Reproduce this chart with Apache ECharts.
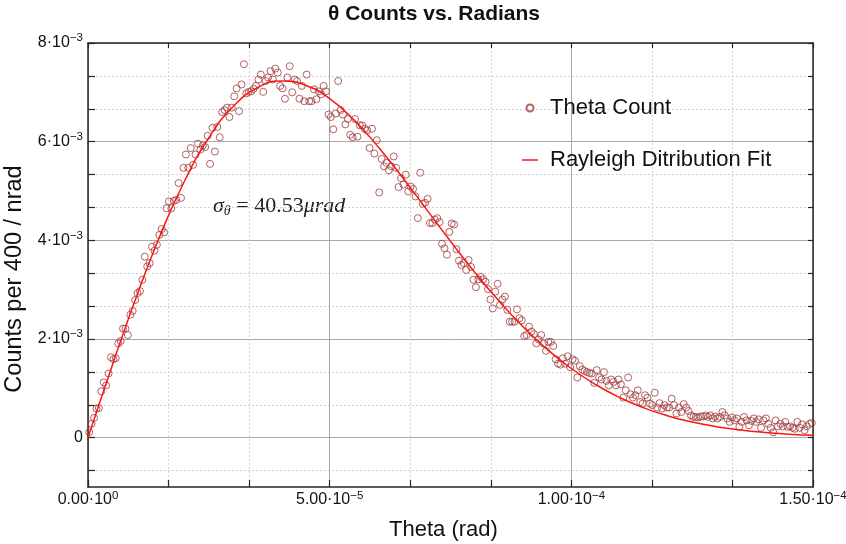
<!DOCTYPE html>
<html><head><meta charset="utf-8">
<script src="https://cdn.jsdelivr.net/npm/echarts@6/dist/echarts.min.js"></script>
<style>html,body{margin:0;padding:0;background:#fff}#c{width:846px;height:544px}</style>
</head><body><div id="c"></div>
<script>
// ---- data (theta in µrad, counts in units of 1e-3) ----
const binStart = 0.25;
const binWidth = 0.5;
const thetaCounts = [
 0.11,0.28,0.40,0.59,0.60,0.94,1.12,1.06,1.30,1.63,1.59,1.61,1.91,1.96,2.21,2.21,2.08,2.49,2.57,2.79,2.93,2.97,3.20,3.67,3.47,3.54,3.87,3.79,3.91,4.11,4.23,4.16,
 4.65,4.79,4.65,4.80,4.82,5.16,4.86,5.47,5.74,5.47,5.87,5.53,5.74,5.96,5.84,5.92,5.89,6.12,5.55,6.28,5.80,6.30,6.09,6.60,6.64,6.69,6.50,6.69,6.92,7.08,6.62,7.16,7.57,6.98,7.01,7.02,7.07,7.13,7.26,7.36,7.01,7.23,7.30,7.43,7.26,7.48,7.40,7.13,7.08,6.87,7.30,7.53,7.00,7.26,7.23,6.87,7.13,6.82,7.36,6.82,6.82,7.06,6.86,7.02,6.96,7.13,7.02,6.55,
 6.50,6.25,6.57,7.23,6.64,6.55,6.35,6.46,6.14,6.09,6.46,6.10,6.33,6.33,6.26,6.23,5.87,6.26,5.76,6.03,4.97,5.65,5.50,5.57,5.42,5.50,5.70,5.47,5.08,5.26,5.13,5.33,4.99,5.09,5.04,4.89,4.45,5.37,4.74,4.76,4.84,4.35,4.35,4.42,4.45,4.37,3.93,3.84,3.71,4.17,4.34,4.32,3.82,3.59,3.50,3.54,3.40,3.60,3.46,3.20,3.05,3.21,3.26,3.21,3.16,3.01,2.80,2.62,2.96,3.12,2.69,2.80,2.86,2.59,2.35,2.35,2.35,2.60,2.42,2.38,2.06,2.08,2.25,2.15,2.10,1.91,1.99,2.08,1.91,1.76,1.94,1.94,1.86,1.59,1.50,1.48,
 1.61,1.50,1.65,1.43,1.59,1.56,1.22,1.45,1.38,1.35,1.33,1.31,1.30,1.11,1.37,1.22,1.18,1.33,1.15,1.06,1.18,1.13,1.06,1.18,1.08,0.81,0.96,1.22,0.88,0.81,0.86,0.96,0.72,0.69,0.86,0.81,0.69,0.66,0.91,0.61,0.70,0.59,0.66,0.61,0.61,0.79,0.66,0.49,0.61,0.52,0.68,0.61,0.54,0.45,0.42,0.42,0.41,0.43,0.43,0.45,0.42,0.45,0.39,0.43,0.39,0.42,0.52,0.45,0.39,0.32,0.41,0.35,0.39,0.22,0.32,0.42,0.35,0.25,0.34,0.39,0.32,0.37,0.20,0.35,0.39,0.28,0.20,0.11,0.35,0.23,0.28,0.23,0.32,0.22,0.23,0.20,0.18,0.32,0.20,0.27,0.15,0.23,0.28,0.30
];
const fitTheta = [0,5,10,15,20,25,30,35,40,45,50,55,60,65,70,75,80,85,90,95,100,105,110,115,120,125,130,135,140,145,150];
const fitValues = [0,1.460,2.853,4.120,5.208,6.079,6.709,7.090,7.229,7.145,6.871,6.442,5.899,5.283,4.633,3.980,3.354,2.773,2.249,1.791,1.402,1.078,0.814,0.604,0.441,0.316,0.223,0.155,0.106,0.071,0.047];
const xTickValues = [0,50,100,150];
const xTickMant = ['0.00','5.00','1.00','1.50'];
const xTickExp = ['0','−5','−4','−4'];
const yTickValues = [0,2,4,6,8];
const yTickMant = ['0','2','4','6','8'];
const yTickExp = ['','−3','−3','−3','−3'];
const yMinorTicks = [-0.6667,0,0.6667,1.3333,2,2.6667,3.3333,4,4.6667,5.3333,6,6.6667,7.3333,8];

// ---- build ----
const scatterData = thetaCounts.map((v,i)=>[binStart + i*binWidth, v]);
const fitData = fitTheta.map((t,i)=>[t, fitValues[i]]);

const FF = '"Liberation Sans", Arial, Helvetica, sans-serif';
const SERIF = '"Liberation Serif", "DejaVu Serif", serif';
const axisColor = '#262626';
const majorGrid = '#a9a9a9';
const minorGrid = '#d2d2d2';
const txt = '#111';

function lbl(m, e){ return e ? '{m|'+m+'·10}{s|'+e+'}' : '{m|'+m+'}'; }
const xRich = {m:{fontSize:16,lineHeight:20,color:txt,fontFamily:FF}, s:{fontSize:11.5,verticalAlign:'top',color:txt,fontFamily:FF}};
const yRich = {m:{fontSize:16,lineHeight:22,color:txt,fontFamily:FF}, s:{fontSize:11.5,verticalAlign:'top',color:txt,fontFamily:FF}};
const lineIcon = 'path://M0,0L16,0L16,0.01L0,0.01Z M0,2.75L16,2.75L16,4.25L0,4.25Z M0,6.99L16,6.99L16,7L0,7Z';

const chart = echarts.init(document.getElementById('c'), null, {renderer:'canvas'});
chart.setOption({
  animation:false,
  backgroundColor:'#fff',
  title:{text:'θ Counts vs. Radians', left:429, top:-1, textAlign:'center',
    textStyle:{fontSize:21, fontWeight:'bold', color:txt, fontFamily:FF}},
  grid:{left:88, right:33, top:43, bottom:57, containLabel:false, outerBoundsMode:'none'},
  legend:{orient:'vertical', left:522, top:97, padding:0, itemGap:30, itemWidth:16, itemHeight:7,
    textStyle:{fontSize:22, color:txt, fontFamily:FF, padding:[0,0,0,7]},
    data:[{name:'Theta Count', icon:'circle'}, {name:'Rayleigh Ditribution Fit', icon:lineIcon}]},
  xAxis:[
    {type:'value', position:'bottom', min:0, max:150, interval:50,
     axisLine:{show:true, onZero:false, lineStyle:{color:axisColor, width:1.5}},
     axisTick:{show:true, inside:true, length:7, lineStyle:{color:axisColor, width:1.2}},
     minorTick:{show:true, splitNumber:3, length:7, lineStyle:{color:axisColor, width:1.2}},
     splitLine:{show:true, lineStyle:{color:majorGrid, width:1}},
     minorSplitLine:{show:true, lineStyle:{color:minorGrid, width:1, type:[2,2]}},
     axisLabel:{margin:3, rich:xRich, formatter:(v)=>{const i=xTickValues.indexOf(Math.round(v)); return i<0?'':lbl(xTickMant[i], xTickExp[i]);}},
     name:'Theta (rad)', nameLocation:'middle', nameGap:32,
     nameTextStyle:{fontSize:22, color:txt, fontFamily:FF, padding:[0,14,0,0]}},
    {type:'value', position:'top', min:0, max:150, interval:50,
     axisLine:{show:true, onZero:false, lineStyle:{color:axisColor, width:1.5}},
     axisTick:{show:true, inside:true, length:5, lineStyle:{color:axisColor, width:1.2}},
     minorTick:{show:true, splitNumber:3, length:5, lineStyle:{color:axisColor, width:1.2}},
     axisLabel:{show:false}, splitLine:{show:false}}
  ],
  yAxis:[
    {type:'value', position:'left', min:-1, max:8,
     axisLine:{show:true, onZero:false, lineStyle:{color:axisColor, width:1.5}},
     axisTick:{show:true, inside:true, length:7, customValues:yMinorTicks, lineStyle:{color:axisColor, width:1.2}},
     axisLabel:{margin:5, customValues:yTickValues, rich:yRich,
       formatter:(v)=>{const i=yTickValues.indexOf(Math.round(v)); return i<0?'':lbl(yTickMant[i], yTickExp[i]);}},
     splitLine:{show:true, lineStyle:{color:minorGrid, width:1, type:[2,2]}},
     name:'Counts per 400 / nrad', nameLocation:'middle', nameRotate:90, nameGap:59,
     nameTextStyle:{fontSize:23.5, color:txt, fontFamily:FF, padding:[0,28,0,0]}},
    {type:'value', position:'left', min:-1, max:8,
     axisLine:{show:false}, axisTick:{show:false, customValues:yTickValues}, axisLabel:{show:false},
     splitLine:{show:true, lineStyle:{color:majorGrid, width:1}}},
    {type:'value', position:'right', min:-1, max:8,
     axisLine:{show:true, onZero:false, lineStyle:{color:axisColor, width:1.5}},
     axisTick:{show:true, inside:true, length:5, customValues:yMinorTicks, lineStyle:{color:axisColor, width:1.2}},
     axisLabel:{show:false}, splitLine:{show:false}}
  ],
  graphic:[{type:'text', left:213, top:195, silent:true,
    style:{text:'{a|σ}{b|θ}{c| = 40.53}{a|μrad}',
      rich:{a:{fontFamily:SERIF, fontStyle:'italic', fontSize:22, lineHeight:24, fill:'#222'},
            b:{fontFamily:SERIF, fontStyle:'italic', fontSize:14, verticalAlign:'bottom', fill:'#222'},
            c:{fontFamily:SERIF, fontSize:22, lineHeight:24, fill:'#222'}}}}],
  series:[
    {type:'scatter', name:'Theta Count', xAxisIndex:0, yAxisIndex:0, data:scatterData,
     symbol:'circle', symbolSize:7, z:2,
     itemStyle:{color:'rgba(255,255,255,0)', borderColor:'#9e3b3b', borderWidth:1}},
    {type:'line', name:'Rayleigh Ditribution Fit', xAxisIndex:0, yAxisIndex:0, data:fitData,
     smooth:true, symbol:'none', z:3, lineStyle:{color:'#ff1414', width:1.5}, itemStyle:{color:'#ff1414'}}
  ]
});
</script></body></html>
